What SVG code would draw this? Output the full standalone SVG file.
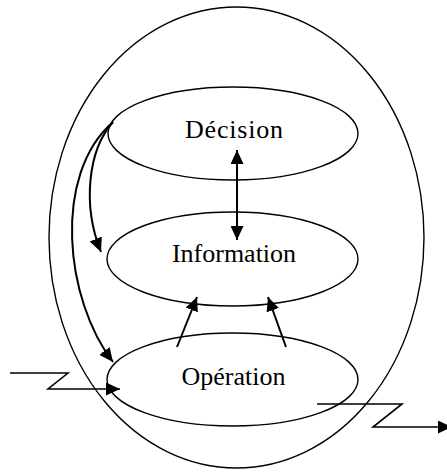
<svg xmlns="http://www.w3.org/2000/svg" width="447" height="472" viewBox="0 0 447 472">
<style>
.el{fill:none;stroke:#000;stroke-width:1.4}
.ar{fill:none;stroke:#000;stroke-width:2}
.ln{fill:none;stroke:#000;stroke-width:1.6}
.t{font-family:"Liberation Serif","Times New Roman",serif;font-size:26px;fill:#000;text-anchor:middle}
</style>
<defs>
<marker id="ah" markerUnits="userSpaceOnUse" markerWidth="15" markerHeight="13" refX="14" refY="6.5" orient="auto-start-reverse" viewBox="0 0 15 13">
<path d="M0,0 L14,6.5 L0,13 Z" fill="#000"/>
</marker>
</defs>
<g id="systeme"><ellipse class="el" cx="236.5" cy="237.5" rx="187.5" ry="230.5"/></g>
<g id="decision"><ellipse class="el" cx="233" cy="133.5" rx="125" ry="46.5"/><text class="t" x="234.4" y="137.5" letter-spacing="0.8">Décision</text></g>
<g id="information"><ellipse class="el" cx="232.5" cy="259" rx="125.5" ry="47"/><text class="t" x="234" y="262">Information</text></g>
<g id="operation"><ellipse class="el" cx="232.5" cy="379.5" rx="125.5" ry="46.5"/><text class="t" x="233.5" y="385">Opération</text></g>
<g id="connectors">
<path class="ar" d="M237,150 V240" marker-start="url(#ah)" marker-end="url(#ah)"/>
<path class="ar" d="M113,122 C88,150 82,205 101,252" marker-end="url(#ah)"/>
<path class="ar" d="M113,122 C52,175 65,300 113,362" marker-end="url(#ah)"/>
<path class="ar" d="M177,347 L197,297" marker-end="url(#ah)"/>
<path class="ar" d="M286,347 L268,297" marker-end="url(#ah)"/>
<path class="ln" d="M10,373 H68 L48,389 H120" marker-end="url(#ah)"/>
<path class="ln" d="M317,404 H402 L373,427 H452" marker-end="url(#ah)"/>
</g>
</svg>
